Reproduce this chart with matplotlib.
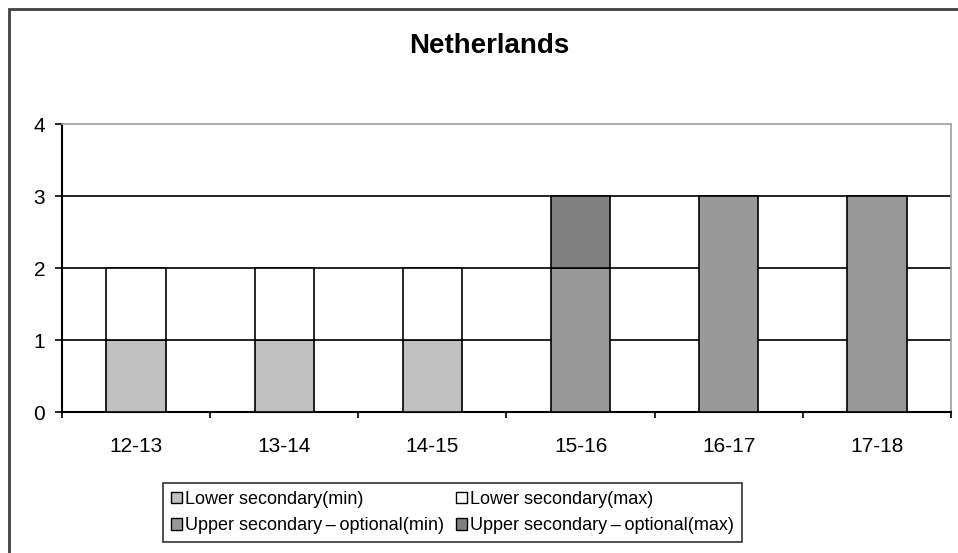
import matplotlib.pyplot as plt
import numpy as np
from matplotlib.patches import Rectangle

categories = ['12-13', '13-14', '14-15', '15-16', '16-17', '17-18']
lower_min = [1, 1, 1, 0, 0, 0]
lower_max = [1, 1, 1, 0, 0, 0]
upper_min = [0, 0, 0, 2, 3, 3]
upper_max = [0, 0, 0, 1, 0, 0]

series = [
    ('Lower secondary(min)', lower_min, '#c0c0c0'),
    ('Lower secondary(max)', lower_max, '#ffffff'),
    ('Upper secondary\u2009\u2013\u2009optional(min)', upper_min, '#999999'),
    ('Upper secondary\u2009\u2013\u2009optional(max)', upper_max, '#808080'),
]

plt.rcParams['font.family'] = ['Liberation Sans', 'DejaVu Sans']

W, H = 958, 553
fig = plt.figure(figsize=(W / 100, H / 100), dpi=100)
ax = fig.add_axes([62 / W, 1 - 412 / H, (951 - 62) / W, (412 - 124) / H])

x = np.arange(len(categories))
bottom = np.zeros(len(categories))
handles = []
for label, vals, color in series:
    vals = np.array(vals, dtype=float)
    keep = vals > 0
    ax.bar(x[keep], vals[keep], bottom=bottom[keep], width=0.4, color=color,
           edgecolor='black', linewidth=1.2, zorder=3)
    handles.append(Rectangle((0, 0), 1, 1, facecolor=color, edgecolor='black',
                             linewidth=1, label=label))
    bottom += vals

ax.set_xlim(-0.5, len(categories) - 0.5)
ax.set_ylim(0, 4)
ax.set_yticks([0, 1, 2, 3, 4])
ax.set_xticks(x)
ax.set_xticklabels(categories, fontsize=15)
ax.set_xticks(np.arange(len(categories) + 1) - 0.5, minor=True)
ax.tick_params(axis='x', which='major', length=0, pad=18)
ax.tick_params(axis='x', which='minor', length=4.5, width=1.2, direction='out', color='black')
ax.tick_params(axis='y', length=5, width=1.2, direction='out', labelsize=15, pad=7)

for y in [1, 2, 3]:
    ax.axhline(y, color='black', linewidth=1.2, zorder=1)

for side in ['top', 'right']:
    ax.spines[side].set_color('#a0a0a0')
    ax.spines[side].set_linewidth(1.2)
for side in ['left', 'bottom']:
    ax.spines[side].set_color('black')
    ax.spines[side].set_linewidth(1.5)

fig.text(489 / W, 1 - 46 / H, 'Netherlands', ha='center', va='center',
         fontsize=20, fontweight='bold')

# outer chart area border (cropped on right and bottom)
fig.add_artist(Rectangle((9 / W, -0.1), 1.2, 1.1 - 9 / H, transform=fig.transFigure,
                         fill=False, edgecolor='#404040', linewidth=2))

# row-major order like the original: lower(min), lower(max) / upper(min), upper(max)
order = [0, 2, 1, 3]
leg = fig.legend([handles[i] for i in order], [series[i][0] for i in order],
                 loc='upper left', bbox_to_anchor=(163 / W, 1 - 483 / H), ncol=2,
                 fontsize=13, frameon=True, fancybox=False, edgecolor='black',
                 handlelength=0.6, handleheight=0.6, handletextpad=0.15,
                 columnspacing=0.7, borderpad=0.45, labelspacing=0.5, borderaxespad=0)
leg.get_frame().set_linewidth(1.2)

fig.savefig('out.png', dpi=100)
